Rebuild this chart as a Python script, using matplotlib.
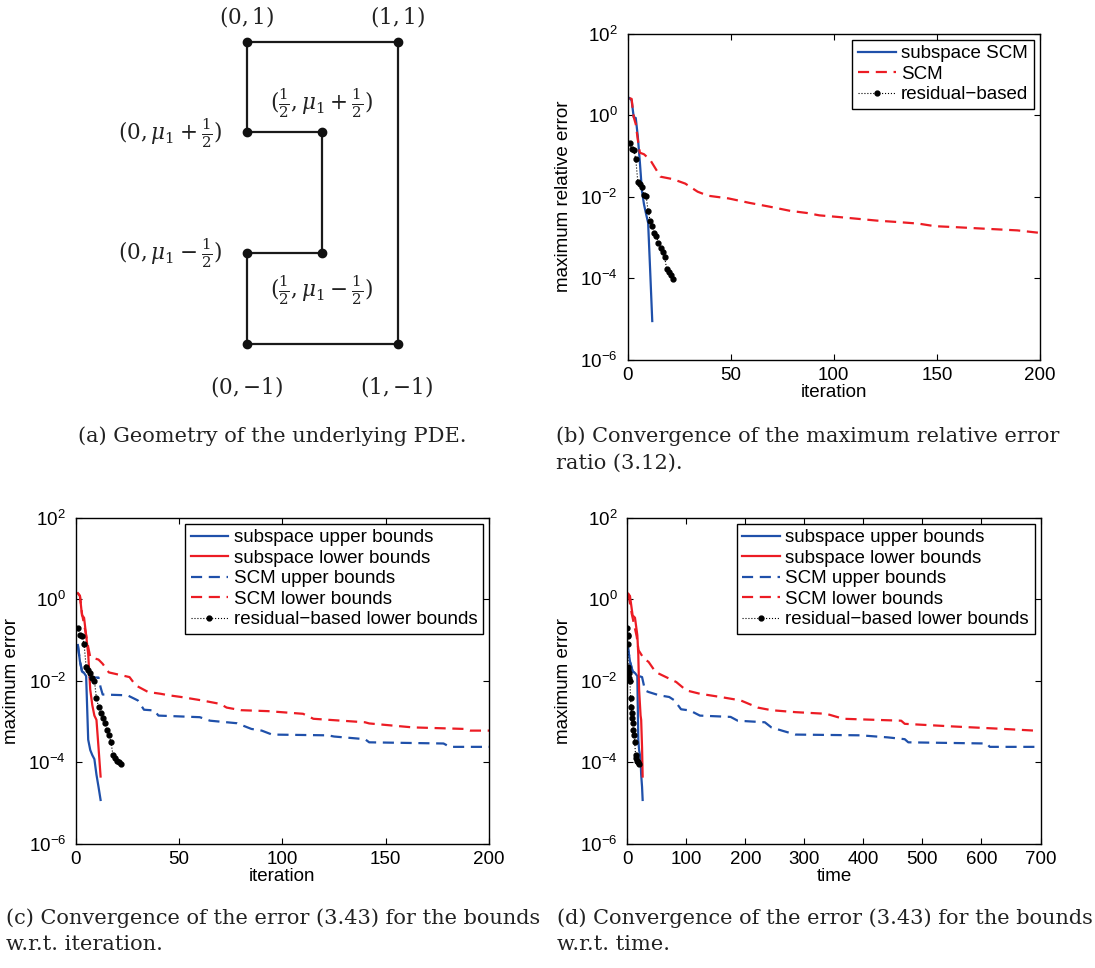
import matplotlib
matplotlib.use("Agg")
import matplotlib.pyplot as plt
from matplotlib.ticker import NullLocator

plt.rcParams["font.family"] = ["Liberation Sans", "DejaVu Sans"]
plt.rcParams["font.size"] = 13.5
plt.rcParams["mathtext.fontset"] = "custom"
plt.rcParams["mathtext.rm"] = "Liberation Sans"
plt.rcParams["mathtext.it"] = "Liberation Sans:italic"

BLUE = "#1f50aa"
RED = "#ec1c24"

# ---- panel (a): geometry ----
geo_x = [0, 1, 1, 0, 0, 0.5, 0.5, 0, 0]
geo_y = [1, 1, -1, -1, -0.4, -0.4, 0.4, 0.4, 1]
corner_x = [0, 1, 0, 0.5, 0, 0.5, 0, 1]
corner_y = [1, 1, 0.4, 0.4, -0.4, -0.4, -1, -1]

# ---- panel (b): max relative error vs iteration ----
b_sub_iter = [1, 2, 3, 4, 5, 6, 7, 8, 9, 10, 11, 12]
b_sub_err = [2.6, 2.3, 0.9, 0.85, 0.3, 0.07, 0.014, 6.5e-3, 3.8e-3, 2.3e-3, 1.5e-4, 9e-6]

b_scm_iter = [1, 2, 3, 4, 5, 6, 8, 11, 16, 22, 28, 34, 39, 49, 59, 69, 79, 87, 93,
              102, 111, 121, 131, 141, 149, 159, 172, 189, 200]
b_scm_err = [2.6, 2.5, 0.9, 0.6, 0.25, 0.12, 0.11, 0.08, 0.031, 0.027, 0.021, 0.0133,
             0.0106, 0.0091, 0.0071, 0.0057, 0.0045, 0.0040, 0.0035, 0.0032, 0.0029,
             0.0026, 0.0024, 0.0022, 0.0019, 0.0018, 0.00166, 0.0015, 0.0013]

res_iter = list(range(1, 23))
b_res_err = [0.21, 0.15, 0.14, 0.085, 0.023, 0.021, 0.017, 0.011, 0.0105, 0.0045, 0.0026,
             0.0019, 0.0013, 0.0011, 7.2e-4, 5.4e-4, 4.4e-4, 3.3e-4, 1.7e-4, 1.45e-4,
             1.2e-4, 9.5e-5]

# ---- panel (c): bounds error vs iteration ----
sub_iter = [1, 2, 3, 4, 5, 6, 7, 8, 9, 10, 11, 12]
c_sub_up = [0.075, 0.03, 0.017, 0.0155, 0.013, 3.6e-4, 2.0e-4, 1.5e-4, 1.2e-4, 5e-5, 2.5e-5, 1.2e-5]
c_sub_lo = [1.4, 1.2, 0.4, 0.35, 0.13, 0.045, 0.006, 2.5e-3, 1.4e-3, 1.1e-3, 2.3e-4, 4.5e-5]

c_scm_up_iter = [1, 2, 3, 4, 5, 6, 7, 11, 12, 13, 25, 30, 33, 38, 40, 60, 65, 78, 85, 90,
                 95, 122, 125, 140, 142, 178, 181, 200]
c_scm_up = [0.075, 0.03, 0.017, 0.0155, 0.014, 0.013, 0.012, 0.012, 6.9e-3, 4.6e-3, 4.4e-3,
            3.3e-3, 1.95e-3, 1.87e-3, 1.4e-3, 1.28e-3, 1.05e-3, 9.1e-4, 6.6e-4, 6.0e-4,
            4.8e-4, 4.6e-4, 4.3e-4, 3.7e-4, 3.1e-4, 2.9e-4, 2.4e-4, 2.4e-4]

c_scm_lo_iter = [1, 2, 3, 5, 6, 7, 11, 13, 16, 20, 26, 29, 35, 41, 45, 51, 61, 70, 73, 80,
                 93, 110, 115, 140, 142, 163, 188, 191, 200]
c_scm_lo = [1.4, 1.2, 0.44, 0.13, 0.067, 0.038, 0.033, 0.026, 0.016, 0.0144, 0.0123, 0.0077,
            0.0053, 0.0048, 0.0044, 0.004, 0.0033, 0.0027, 0.0022, 0.0019, 0.0018, 0.00155,
            0.00117, 9.6e-4, 9e-4, 7.2e-4, 6.6e-4, 6e-4, 6e-4]

c_res_err = [0.2, 0.135, 0.123, 0.08, 0.022, 0.018, 0.0155, 0.0117, 0.0101, 0.0037, 0.0023,
             0.0016, 0.0012, 9.1e-4, 6.3e-4, 4.7e-4, 3.2e-4, 1.5e-4, 1.26e-4, 1.1e-4,
             1.0e-4, 8.9e-5]

# ---- panel (d): bounds error vs time ----
sub_time = [0.5, 4.5, 9, 13, 17, 18.6, 20, 21.5, 22.5, 23.5, 25, 26]

d_scm_up_time = [0.5, 4.5, 9, 13, 17, 20, 25, 30, 36, 54, 71, 80, 91, 106, 123, 175, 187,
                 233, 244, 262, 285, 395, 441, 470, 476, 609, 614, 690]
d_scm_up = [0.075, 0.03, 0.017, 0.0155, 0.014, 0.013, 0.0123, 5.8e-3, 5.3e-3, 4.4e-3,
            4.0e-3, 3.3e-3, 2.0e-3, 1.87e-3, 1.4e-3, 1.3e-3, 1.05e-3, 9.6e-4, 7.2e-4,
            6.0e-4, 4.8e-4, 4.6e-4, 4.1e-4, 3.7e-4, 3.1e-4, 2.9e-4, 2.4e-4, 2.4e-4]

d_scm_lo_time = [1.7, 7.5, 16, 19, 28, 36, 48, 83, 100, 123, 158, 192, 221, 244, 285, 337,
                 366, 464, 470, 551, 638, 690]
d_scm_lo = [1.38, 0.44, 0.12, 0.056, 0.035, 0.029, 0.0163, 0.0093, 0.0058, 0.0048, 0.004,
            0.0033, 0.0022, 0.0019, 0.0017, 0.00155, 0.00117, 0.00105, 8.8e-4, 7.6e-4,
            6.6e-4, 6e-4]

res_time = [0.2, 0.4, 0.6, 0.9, 1.3, 2.0, 2.8, 3.6, 4.5, 5.5, 6.5, 7.5, 8.5, 9.5, 10.5,
            11.5, 12.5, 14, 15.5, 17, 18.5, 19.8]

W, H = 1095, 968
fig = plt.figure(figsize=(W / 100, H / 100), dpi=100)


def px_axes(left, top, right, bottom):
    # axes from pixel box (top-left origin)
    return fig.add_axes([left / W, 1 - bottom / H, (right - left) / W, (bottom - top) / H])


def style_log(ax, xmax, xticks, xlabel, ylabel):
    ax.set_yscale("log")
    ax.set_ylim(1e-6, 1e2)
    ax.set_xlim(0, xmax)
    ax.set_yticks([1e-6, 1e-4, 1e-2, 1e0, 1e2])
    ax.yaxis.set_minor_locator(NullLocator())
    ax.set_xticks(xticks)
    ax.tick_params(direction="in", top=True, right=True, length=4, width=0.8, pad=5)
    ax.tick_params(axis="y", pad=7)
    for s in ax.spines.values():
        s.set_linewidth(1.0)
    ax.set_xlabel(xlabel, labelpad=0)
    ax.set_ylabel(ylabel, labelpad=6)


def add_legend(ax):
    leg = ax.legend(loc="upper right", fancybox=False, framealpha=1, edgecolor="black",
                    borderaxespad=0.32, borderpad=0.3, handlelength=2.0, handletextpad=0.3,
                    labelspacing=0.18)
    leg.get_frame().set_linewidth(1.0)


res_style = dict(color="black", linestyle=":", linewidth=0.8, marker=".", markersize=7)
dash = (5, 3)

# (a)
ax_a = px_axes(60, 0, 470, 410)
ax_a.set_xlim(-1.236, 1.479)
ax_a.set_ylim(-1.439, 1.276)
ax_a.axis("off")
ax_a.plot(geo_x, geo_y, color="#1a1a1a", linewidth=1.6)
ax_a.plot(corner_x, corner_y, "o", color="#111111", markersize=6)
mkw = dict(fontsize=15.5, math_fontfamily="dejavuserif", color="#222222", va="center")
ax_a.text(0, 1.165, r"$(0,1)$", ha="center", **mkw)
ax_a.text(1.0, 1.165, r"$(1,1)$", ha="center", **mkw)
ax_a.text(0.497, 0.594, r"$(\frac{1}{2},\mu_1+\frac{1}{2})$", ha="center", **mkw)
ax_a.text(-0.164, 0.395, r"$(0,\mu_1+\frac{1}{2})$", ha="right", **mkw)
ax_a.text(-0.164, -0.40, r"$(0,\mu_1-\frac{1}{2})$", ha="right", **mkw)
ax_a.text(0.497, -0.645, r"$(\frac{1}{2},\mu_1-\frac{1}{2})$", ha="center", **mkw)
ax_a.text(0, -1.285, r"$(0,{-1})$", ha="center", **mkw)
ax_a.text(0.995, -1.285, r"$(1,{-1})$", ha="center", **mkw)

# (b)
ax_b = px_axes(627.5, 33.5, 1040, 360)
ax_b.plot(b_sub_iter, b_sub_err, color=BLUE, linewidth=1.6, label="subspace SCM")
ax_b.plot(b_scm_iter, b_scm_err, color=RED, linewidth=1.6, dashes=dash, label="SCM")
ax_b.plot(res_iter, b_res_err, label="residual\u2212based", **res_style)
style_log(ax_b, 200, [0, 50, 100, 150, 200], "iteration", "maximum relative error")
add_legend(ax_b)

# (c)
ax_c = px_axes(75.8, 517.5, 489, 844)
ax_c.plot(sub_iter, c_sub_up, color=BLUE, linewidth=1.6, label="subspace upper bounds")
ax_c.plot(sub_iter, c_sub_lo, color=RED, linewidth=1.6, label="subspace lower bounds")
ax_c.plot(c_scm_up_iter, c_scm_up, color=BLUE, linewidth=1.6, dashes=dash, label="SCM upper bounds")
ax_c.plot(c_scm_lo_iter, c_scm_lo, color=RED, linewidth=1.6, dashes=dash, label="SCM lower bounds")
ax_c.plot(res_iter, c_res_err, label="residual\u2212based lower bounds", **res_style)
style_log(ax_c, 200, [0, 50, 100, 150, 200], "iteration", "maximum error")
add_legend(ax_c)

# (d)
ax_d = px_axes(627.3, 517.5, 1040.5, 844)
ax_d.plot(sub_time, c_sub_up, color=BLUE, linewidth=1.6, label="subspace upper bounds")
ax_d.plot(sub_time, c_sub_lo, color=RED, linewidth=1.6, label="subspace lower bounds")
ax_d.plot(d_scm_up_time, d_scm_up, color=BLUE, linewidth=1.6, dashes=dash, label="SCM upper bounds")
ax_d.plot(d_scm_lo_time, d_scm_lo, color=RED, linewidth=1.6, dashes=dash, label="SCM lower bounds")
ax_d.plot(res_time, c_res_err, label="residual\u2212based lower bounds", **res_style)
style_log(ax_d, 700, list(range(0, 701, 100)), "time", "maximum error")
add_legend(ax_d)

# captions
ckw = dict(fontsize=15, family="DejaVu Serif", color="#222222", va="center")
fig.text(272 / W, 1 - 436 / H, "(a) Geometry of the underlying PDE.", ha="center", **ckw)
fig.text(556 / W, 1 - 436 / H, "(b) Convergence of the maximum relative error", ha="left", **ckw)
fig.text(556 / W, 1 - 463 / H, "ratio (3.12).", ha="left", **ckw)
fig.text(6 / W, 1 - 918 / H, "(c) Convergence of the error (3.43) for the bounds", ha="left", **ckw)
fig.text(6 / W, 1 - 945 / H, "w.r.t. iteration.", ha="left", **ckw)
fig.text(557 / W, 1 - 918 / H, "(d) Convergence of the error (3.43) for the bounds", ha="left", **ckw)
fig.text(557 / W, 1 - 945 / H, "w.r.t. time.", ha="left", **ckw)

fig.savefig("out.png", dpi=100)
